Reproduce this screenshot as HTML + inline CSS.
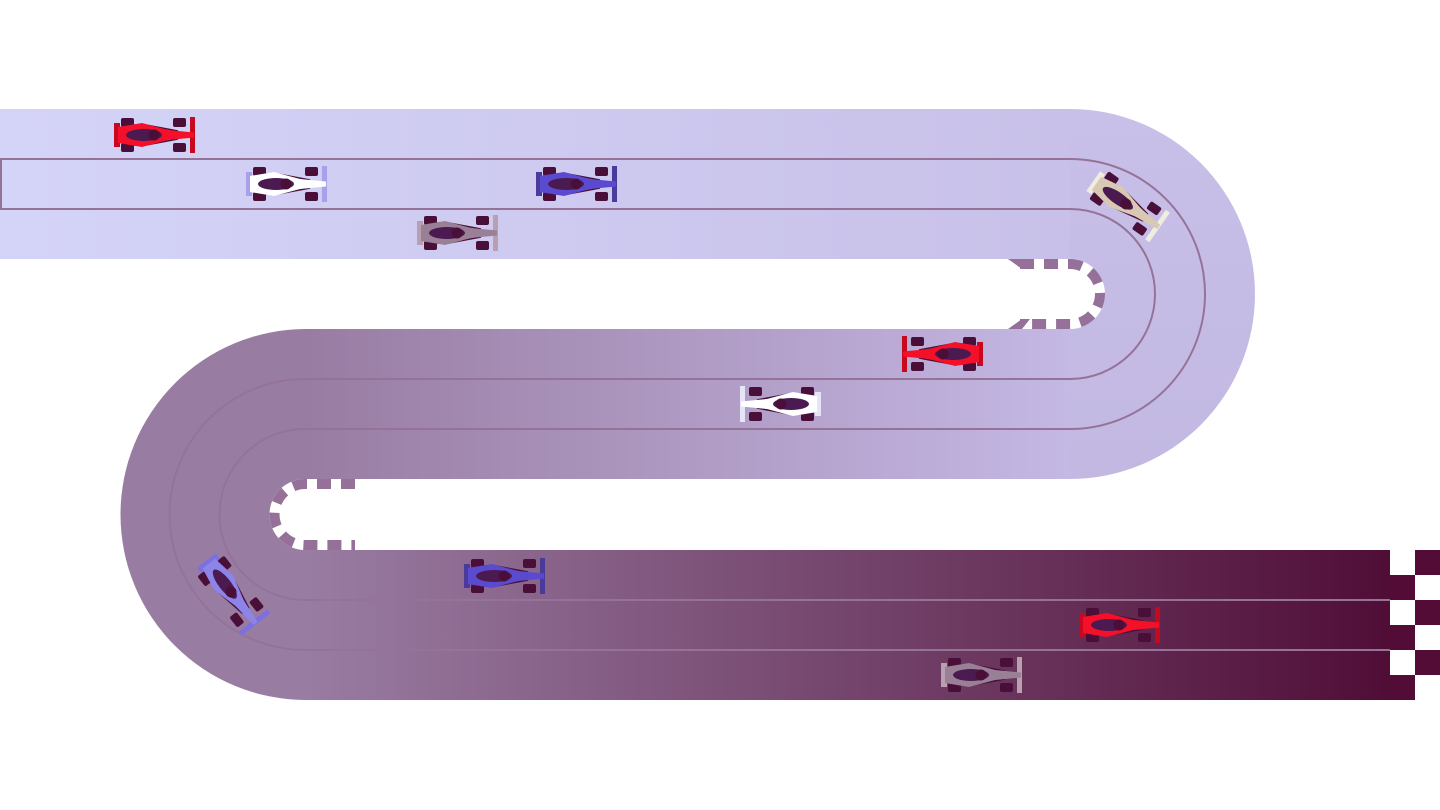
<!DOCTYPE html>
<html><head><meta charset="utf-8"><style>html,body{margin:0;padding:0;background:#fff}svg{display:block}</style></head>
<body>
<svg width="1440" height="810" viewBox="0 0 1440 810" xmlns="http://www.w3.org/2000/svg">
<defs>
<linearGradient id="gTop" x1="0" x2="1070" y1="0" y2="0" gradientUnits="userSpaceOnUse"><stop offset="0" stop-color="#d4d4f8"/><stop offset="1" stop-color="#c8c0e8"/></linearGradient>
<linearGradient id="gMid" x1="305" x2="1070" y1="0" y2="0" gradientUnits="userSpaceOnUse"><stop offset="0" stop-color="#997ca2"/><stop offset="1" stop-color="#c4b8e4"/></linearGradient>
<linearGradient id="gBot" x1="305" x2="1415" y1="0" y2="0" gradientUnits="userSpaceOnUse"><stop offset="0" stop-color="#997ca2"/><stop offset="1" stop-color="#4e0b34"/></linearGradient>
<linearGradient id="gR" x1="0" x2="0" y1="109" y2="479" gradientUnits="userSpaceOnUse"><stop offset="0" stop-color="#c8c0e8"/><stop offset="1" stop-color="#c2b8e2"/></linearGradient>
<g id="car">
  <rect x="-33" y="-17" width="13" height="9" rx="2" fill="#4a0f38"/>
  <rect x="-33" y="8" width="13" height="9" rx="2" fill="#4a0f38"/>
  <rect x="19" y="-17" width="13" height="9" rx="2" fill="#4a0f38"/>
  <rect x="19" y="8" width="13" height="9" rx="2" fill="#4a0f38"/>
  <path d="M-26 -10 L-8 -10 L24 -4 M-26 10 L-8 10 L24 4" stroke="#4a0f38" stroke-width="1.5" fill="none"/>
  <rect x="-40" y="-12" width="6" height="24" fill="var(--w)"/>
  <rect x="36" y="-18" width="5" height="36" fill="var(--w)"/>
  <path d="M-36 -8 L-12 -12 L14 -5 L40 -2.5 L40 2.5 L14 5 L-12 12 L-36 8 Z" fill="var(--b)"/>
  <ellipse cx="-10" cy="0" rx="18" ry="6" fill="#4a1a50"/>
  <circle cx="0" cy="0" r="5.5" fill="#4a0f38"/>
</g>
</defs>
<path d="M1070 109 A185 185 0 0 1 1070 479 Z" fill="url(#gR)"/>
<path d="M306 329 A185.5 185.5 0 0 0 306 700 Z" fill="#997ca2"/>
<rect x="0" y="109" width="1070" height="150" fill="url(#gTop)"/>
<rect x="305" y="329" width="765" height="150" fill="url(#gMid)"/>
<rect x="305" y="550" width="1110" height="150" fill="url(#gBot)"/>
<path d="M1000 259 L1070 259 A35 35 0 0 1 1070 329 L1000 329 Z" fill="#fff"/>
<path d="M380 479 L305 479 A35.5 35.5 0 0 0 305 550 L380 550 Z" fill="#fff"/>
<path d="M1020 264 L1070 264 A30 30 0 0 1 1070 324 L1020 324" fill="none" stroke="#957099" stroke-width="10" stroke-dasharray="14 10"/>
<path d="M1008 259 L1022 259 L1030 269 L1022 269 Z M1008 329 L1022 329 L1030 319 L1022 319 Z" fill="#957099"/>
<path d="M355 484 L305 484 A30.5 30.5 0 0 0 305 545 L355 545" fill="none" stroke="#957099" stroke-width="10" stroke-dasharray="14 10"/>
<g fill="none" stroke="#957399" stroke-width="2">
<path d="M0 159 L1070 159 A135 135 0 0 1 1070 429 L305 429 A85.5 85.5 0 0 0 305 600 L1415 600"/>
<path d="M0 209 L1070 209 A85 85 0 0 1 1070 379 L305 379 A135.5 135.5 0 0 0 305 650 L1415 650"/>
<path d="M1 159 L1 209"/>
</g>
<g fill="#fff">
<rect x="1390" y="550" width="25" height="25"/><rect x="1415" y="575" width="25" height="25"/>
<rect x="1390" y="600" width="25" height="25"/><rect x="1415" y="625" width="25" height="25"/>
<rect x="1390" y="650" width="25" height="25"/><rect x="1415" y="675" width="25" height="25"/>
</g>
<g fill="#520c36">
<rect x="1415" y="550" width="25" height="25"/><rect x="1390" y="575" width="25" height="25"/>
<rect x="1415" y="600" width="25" height="25"/><rect x="1390" y="625" width="25" height="25"/>
<rect x="1415" y="650" width="25" height="25"/><rect x="1390" y="675" width="25" height="25"/>
</g>
<use href="#car" transform="translate(154,135)" style="--b:#f5102a;--w:#c8081e"/>
<use href="#car" transform="translate(286,184)" style="--b:#ffffff;--w:#a8a0e8"/>
<use href="#car" transform="translate(576,184)" style="--b:#5a4ad0;--w:#4a3a9a"/>
<use href="#car" transform="translate(457,233)" style="--b:#9a8096;--w:#b8a0b0"/>
<use href="#car" transform="translate(1126,204) rotate(35)" style="--b:#d8c8b4;--w:#f0ece0"/>
<use href="#car" transform="translate(943,354) rotate(180)" style="--b:#f5102a;--w:#c8081e"/>
<use href="#car" transform="translate(781,404) rotate(180)" style="--b:#ffffff;--w:#e8e4f8"/>
<use href="#car" transform="translate(231,592) rotate(52)" style="--b:#8c84e8;--w:#7c70e0"/>
<use href="#car" transform="translate(504,576)" style="--b:#5a4ad0;--w:#4a3a9a"/>
<use href="#car" transform="translate(1119,625)" style="--b:#f5102a;--w:#c8081e"/>
<use href="#car" transform="translate(981,675)" style="--b:#9a8096;--w:#b8a0b0"/>
</svg>
</body></html>
